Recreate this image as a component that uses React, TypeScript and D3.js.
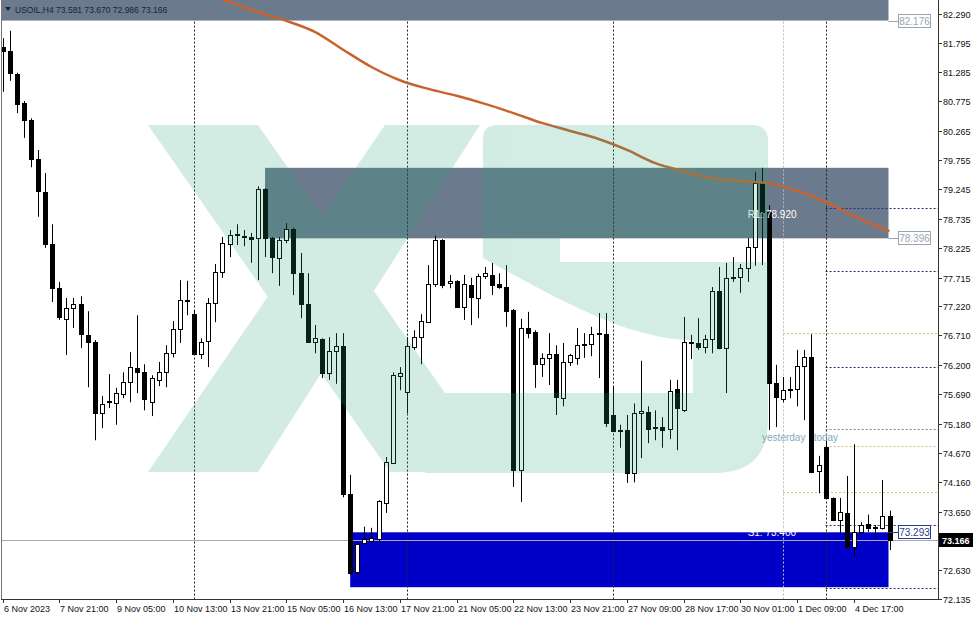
import * as d3 from "d3";

// candles, H4 bars, index 0 = 6 Nov 2023
const OPEN = [81.72, 81.65, 81.25, 80.74, 80.45, 79.77, 79.2, 78.3, 77.53, 77.0, 77.19, 77.26, 76.72, 76.6, 75.36, 75.55, 75.53, 75.69, 75.9, 76.14, 76.07, 75.55, 75.94, 76.07, 76.4, 76.82, 77.31, 77.08, 76.39, 76.61, 77.27, 77.81, 78.3, 78.47, 78.44, 78.42, 78.4, 79.25, 78.4, 78.05, 78.37, 78.56, 77.79, 77.26, 76.6, 76.65, 76.06, 76.44, 76.53, 73.96, 72.6, 73.11, 73.14, 73.17, 73.8, 74.49, 76.01, 75.73, 76.51, 76.68, 76.94, 77.6, 78.37, 77.62, 77.66, 77.2, 77.59, 77.36, 77.74, 77.76, 77.6, 77.55, 77.15, 74.37, 76.84, 76.77, 76.21, 76.32, 76.39, 75.62, 76.25, 76.32, 76.54, 76.56, 76.73, 76.73, 75.33, 75.07, 75.07, 74.32, 75.36, 75.38, 75.12, 75.12, 75.09, 75.78, 75.41, 76.58, 76.58, 76.51, 76.65, 77.48, 76.49, 77.71, 77.72, 77.88, 78.25, 79.36, 78.85, 75.88, 75.6, 75.76, 75.78, 76.18, 76.33, 74.36, 74.77, 73.89, 73.51, 73.63, 73.04, 73.3, 73.44, 73.37, 73.37, 73.581];
const HIGH = [81.87, 82.0, 81.27, 80.78, 80.48, 79.93, 79.53, 78.64, 77.64, 77.36, 77.36, 77.39, 77.13, 76.63, 75.66, 76.04, 75.8, 76.07, 76.42, 77.06, 76.21, 76.02, 76.25, 76.54, 76.96, 77.67, 77.66, 77.15, 76.66, 77.36, 77.95, 78.42, 78.54, 78.64, 78.54, 78.49, 79.3, 79.27, 78.42, 78.42, 78.66, 78.58, 78.14, 77.79, 76.89, 76.66, 76.68, 76.75, 76.75, 74.29, 73.12, 73.39, 73.37, 73.85, 74.6, 76.07, 76.16, 76.68, 76.8, 77.08, 77.93, 78.44, 78.38, 77.76, 77.67, 77.76, 77.71, 77.78, 77.9, 77.97, 77.79, 77.93, 77.17, 77.0, 77.12, 76.8, 76.4, 76.75, 76.54, 76.58, 76.39, 76.84, 76.75, 76.86, 77.1, 77.1, 75.83, 75.16, 75.33, 75.53, 76.27, 75.48, 75.41, 75.29, 75.94, 75.94, 77.03, 76.72, 77.01, 76.72, 77.55, 77.9, 77.97, 78.07, 77.95, 78.4, 79.55, 79.62, 78.97, 76.2, 75.99, 75.99, 76.46, 76.46, 76.73, 74.62, 74.95, 73.9, 73.89, 74.27, 74.82, 73.47, 73.6, 73.42, 74.2, 73.67];
const LOW = [80.94, 81.13, 80.57, 80.14, 79.63, 78.77, 78.23, 77.29, 76.98, 76.37, 76.84, 76.49, 75.81, 74.89, 75.1, 75.45, 75.16, 75.62, 75.55, 75.71, 75.41, 75.31, 75.83, 75.81, 76.33, 76.58, 77.06, 76.37, 76.3, 76.16, 76.94, 77.71, 78.07, 78.28, 78.26, 77.97, 77.67, 78.07, 77.79, 77.57, 78.31, 77.41, 77.01, 76.58, 76.4, 75.97, 75.94, 75.87, 73.9, 72.55, 72.57, 73.09, 73.12, 73.14, 73.63, 74.48, 75.76, 75.36, 76.46, 76.21, 76.93, 77.55, 77.53, 77.53, 77.19, 76.98, 76.89, 77.01, 77.69, 77.41, 77.52, 76.86, 74.08, 73.82, 76.66, 75.8, 75.99, 75.85, 75.33, 75.48, 76.18, 76.2, 76.32, 76.35, 75.97, 75.12, 75.03, 74.76, 74.15, 74.16, 74.58, 74.84, 74.89, 74.76, 74.91, 74.72, 75.38, 76.3, 76.46, 76.4, 76.4, 76.47, 75.71, 77.64, 77.45, 77.64, 77.92, 77.93, 75.07, 75.12, 75.55, 75.62, 75.48, 75.24, 74.32, 73.97, 73.87, 73.49, 73.28, 73.02, 72.85, 73.28, 73.3, 73.21, 73.34, 72.986];
const CLOSE = [81.65, 81.27, 80.73, 80.45, 79.77, 79.22, 78.3, 77.53, 77.03, 77.19, 77.26, 76.73, 76.6, 75.36, 75.52, 75.57, 75.71, 75.9, 76.16, 76.07, 75.6, 75.97, 76.07, 76.4, 76.82, 77.32, 77.32, 76.39, 76.6, 77.27, 77.81, 78.31, 78.45, 78.45, 78.42, 78.38, 79.25, 78.4, 78.07, 78.37, 78.56, 77.79, 77.26, 76.6, 76.66, 76.06, 76.44, 76.53, 73.96, 72.58, 73.09, 73.17, 73.19, 73.84, 74.51, 76.02, 76.06, 76.53, 76.68, 76.96, 77.6, 78.37, 77.59, 77.66, 77.2, 77.6, 77.38, 77.74, 77.79, 77.59, 77.55, 77.13, 74.37, 76.84, 76.75, 76.21, 76.32, 76.39, 75.64, 76.25, 76.37, 76.54, 76.56, 76.73, 76.75, 75.19, 75.05, 75.05, 74.32, 75.36, 75.4, 75.09, 75.1, 75.07, 75.74, 75.45, 76.6, 76.6, 76.51, 76.65, 77.48, 76.49, 77.71, 77.72, 77.88, 78.25, 79.36, 78.85, 75.88, 75.64, 75.76, 75.78, 76.18, 76.33, 74.34, 74.46, 73.89, 73.51, 73.65, 73.04, 73.3, 73.42, 73.36, 73.38, 73.58, 73.166];

// moving average, read at a few bars
const MA_BARS = [28, 32, 36, 40, 44, 48, 52, 56, 60, 64, 68, 72, 76, 80, 84, 88, 92, 96, 100, 104, 108, 112, 116, 120, 124, 125];
const MA_VALUES = [82.67, 82.5, 82.32, 82.17, 81.98, 81.67, 81.37, 81.14, 80.99, 80.87, 80.73, 80.57, 80.4, 80.26, 80.12, 79.93, 79.7, 79.56, 79.44, 79.39, 79.35, 79.22, 79.03, 78.78, 78.57, 78.52];

// axes
const PRICE_TICKS = [82.29, 81.795, 81.285, 80.775, 80.265, 79.755, 79.245, 78.735, 78.225, 77.715, 77.22, 76.71, 76.2, 75.69, 75.18, 74.67, 74.16, 73.65, 72.63, 72.135];
const TIME_LABELS = ["6 Nov 2023", "7 Nov 21:00", "9 Nov 05:00", "10 Nov 13:00", "13 Nov 21:00", "15 Nov 05:00", "16 Nov 13:00", "17 Nov 21:00", "21 Nov 05:00", "22 Nov 13:00", "23 Nov 21:00", "27 Nov 09:00", "28 Nov 17:00", "30 Nov 01:00", "1 Dec 09:00", "4 Dec 17:00"];
const TIME_LABEL_STEP = 8;
const WEEK_BARS = [27, 57, 86, 116];
const YESTERDAY_BAR = 110;
const TODAY_BAR = 116;

// zones and levels
const TOP_ZONE_LOW = 82.176;
const MID_ZONE = { fromBar: 37, low: 78.396, high: 79.62 };
const SUPPORT_ZONE = { fromBar: 49, low: 72.34, high: 73.293 };
const PIVOT_LEVELS = [78.92, 77.83, 76.16, 73.42, 72.33];
const PURPLE_LEVEL = 75.09;
const YESTERDAY_LEVELS = [76.75, 73.99];
const TODAY_OPEN = 74.79;
const LAST_PRICE = 73.166;

const FONT = "'Liberation Sans', Arial, sans-serif";
const ZONE_GRAY = "#6c7a8d";

export default function App() {
  const n = OPEN.length;
  const x = d3.scaleLinear().domain([0, n - 1]).range([2.5, 889.5]);
  const y = d3.scaleLinear().domain([82.29, 72.135]).range([14, 599]);
  const right = 938;
  const bottom = 599;
  const zoneEnd = x(n - 1) - 1;
  const cx = (i: number) => Math.round(x(i));
  const hy = (v: number) => Math.round(y(v)) + 0.5;

  const maLine = d3
    .line<number>()
    .x((_, i) => x(MA_BARS[i]))
    .y((d) => y(d))
    .curve(d3.curveMonotoneX);

  const boxLabel = (v: number, color: string) => {
    const yy = Math.round(y(v));
    return (
      <g key={"b" + v}>
        <line x1={zoneEnd} x2={898} y1={yy + 0.5} y2={yy + 0.5} stroke={color} />
        <rect x={898.5} y={yy - 6.5} width={32} height={13} fill="#fff" stroke={color} />
        <text x={914.5} y={yy + 3.5} fontSize={10} textAnchor="middle" fill={color}>
          {v.toFixed(3)}
        </text>
      </g>
    );
  };

  return (
    <svg
      width={975}
      height={618}
      style={{ position: "absolute", left: 0, top: 0 }}
      fontFamily={FONT}
    >
      <defs>
        <clipPath id="plot">
          <rect x={1} y={0} width={right - 1} height={bottom} />
        </clipPath>
      </defs>
      <rect width={975} height={618} fill="#fff" />

      <g clipPath="url(#plot)">
        {/* zones */}
        <rect x={0} y={0} width={zoneEnd} height={y(TOP_ZONE_LOW)} fill={ZONE_GRAY} />
        <rect
          x={x(MID_ZONE.fromBar)}
          y={y(MID_ZONE.high)}
          width={zoneEnd - x(MID_ZONE.fromBar)}
          height={y(MID_ZONE.low) - y(MID_ZONE.high)}
          fill={ZONE_GRAY}
        />
        <rect
          x={x(SUPPORT_ZONE.fromBar)}
          y={y(SUPPORT_ZONE.high)}
          width={zoneEnd - x(SUPPORT_ZONE.fromBar)}
          height={y(SUPPORT_ZONE.low) - y(SUPPORT_ZONE.high)}
          fill="#0000c8"
        />

        {/* period separators */}
        {WEEK_BARS.map((b) => (
          <line key={b} x1={cx(b) + 0.5} x2={cx(b) + 0.5} y1={y(TOP_ZONE_LOW) + 1} y2={bottom}
            stroke="#222" strokeDasharray="2 2" />
        ))}
        <line x1={cx(YESTERDAY_BAR) + 0.5} x2={cx(YESTERDAY_BAR) + 0.5} y1={y(TOP_ZONE_LOW) + 1} y2={bottom}
          stroke="#bbb" strokeDasharray="2 2" />

        {/* daily / pivot levels */}
        {YESTERDAY_LEVELS.map((v) => (
          <line key={v} x1={x(YESTERDAY_BAR)} x2={right} y1={hy(v)} y2={hy(v)}
            stroke="#d9bf7f" strokeDasharray="2 2" />
        ))}
        <line x1={x(TODAY_BAR)} x2={right} y1={hy(TODAY_OPEN)} y2={hy(TODAY_OPEN)}
          stroke="#d9bf7f" strokeDasharray="2 2" />
        {PIVOT_LEVELS.map((v) => (
          <line key={v} x1={x(TODAY_BAR)} x2={right} y1={hy(v)} y2={hy(v)}
            stroke="#2a2a70" strokeDasharray="2 2" />
        ))}
        <line x1={x(TODAY_BAR)} x2={right} y1={hy(PURPLE_LEVEL)} y2={hy(PURPLE_LEVEL)}
          stroke="#9a6a9a" strokeDasharray="2 2" />

        {/* bid line */}
        <line x1={0} x2={right} y1={hy(LAST_PRICE)} y2={hy(LAST_PRICE)} stroke="#a8a8b8" />

        {/* candles */}
        {OPEN.map((o, i) => {
          const c = CLOSE[i];
          const px = cx(i);
          const top = Math.round(y(Math.max(o, c)));
          const bot = Math.round(y(Math.min(o, c)));
          const up = c >= o;
          return (
            <g key={i}>
              <line x1={px + 0.5} x2={px + 0.5} y1={y(HIGH[i])} y2={y(LOW[i])} stroke="#000" />
              {bot - top < 1 ? (
                <line x1={px - 2} x2={px + 3} y1={top + 0.5} y2={top + 0.5} stroke="#000" />
              ) : (
                <rect x={px - 1.5} y={top + 0.5} width={4} height={bot - top}
                  fill={up ? "#fff" : "#000"} stroke="#000" />
              )}
            </g>
          );
        })}

        {/* moving average */}
        <path d={maLine(MA_VALUES) ?? ""} fill="none" stroke="#c8632e" strokeWidth={2.5} />

        {/* pivot labels */}
        <text x={x(TODAY_BAR) - 78} y={y(PIVOT_LEVELS[0]) + 10} fontSize={10} fill="#fff">R1: 78.920</text>
        <text x={x(TODAY_BAR) - 78} y={y(PIVOT_LEVELS[3]) + 11} fontSize={10} fill="#fff">S1: 73.400</text>
        <text x={x(YESTERDAY_BAR) - 21} y={441} fontSize={10} fill="#86a9b6">yesterday</text>
        <text x={x(TODAY_BAR) - 12} y={441} fontSize={10} fill="#86a9b6">today</text>

        {/* header */}
        <path d="M5 7 L11 7 L8 11 Z" fill="#1c2233" />
        <text x={15} y={13} fontSize={8.5} fill="#1c2233">
          USOIL,H4 73.581 73.670 72.986 73.166
        </text>

        {/* watermark */}
        <g opacity={0.2} fill="#25a376">
          <polygon points="148,125 258,125 500,472 390,472" />
          <polygon points="385,125 480,125 258,472 148,472" />
          <path d="M497 125 L752 125 Q768 125 768 141 L768 238 L560 238 L560 262 L768 262 L768 420 Q768 473 715 473 L425 473 L425 393 L693 393 L693 340 C630 340 560 300 483 258 L483 139 Q483 125 497 125 Z" />
        </g>
      </g>

      {/* right labels for zones */}
      {boxLabel(TOP_ZONE_LOW, "#9aa5b3")}
      {boxLabel(MID_ZONE.low, "#9aa5b3")}
      {boxLabel(SUPPORT_ZONE.high, "#2c3c8c")}

      {/* frame */}
      <line x1={1.5} x2={1.5} y1={0} y2={bottom} stroke="#777" />
      <line x1={right + 0.5} x2={right + 0.5} y1={0} y2={bottom + 1} stroke="#333" />
      <line x1={1} x2={right + 1} y1={bottom + 0.5} y2={bottom + 0.5} stroke="#333" />

      {/* price axis */}
      {PRICE_TICKS.map((v) => {
        const yy = Math.round(y(v));
        return (
          <g key={v}>
            <line x1={right} x2={right + 4} y1={yy + 0.5} y2={yy + 0.5} stroke="#333" />
            <text x={943} y={yy + 3.5} fontSize={9} fill="#111">{v.toFixed(3)}</text>
          </g>
        );
      })}
      <rect x={939} y={Math.round(y(LAST_PRICE)) - 7} width={34} height={14} fill="#000" />
      <text x={942} y={Math.round(y(LAST_PRICE)) + 3.5} fontSize={9} fontWeight="bold" fill="#fff">
        {LAST_PRICE.toFixed(3)}
      </text>

      {/* time axis */}
      {TIME_LABELS.map((t, k) => {
        const px = cx(k * TIME_LABEL_STEP);
        return (
          <g key={t}>
            <line x1={px + 0.5} x2={px + 0.5} y1={bottom} y2={bottom + 4} stroke="#333" />
            <text x={px + 1} y={612} fontSize={9} fill="#111">{t}</text>
          </g>
        );
      })}
    </svg>
  );
}
